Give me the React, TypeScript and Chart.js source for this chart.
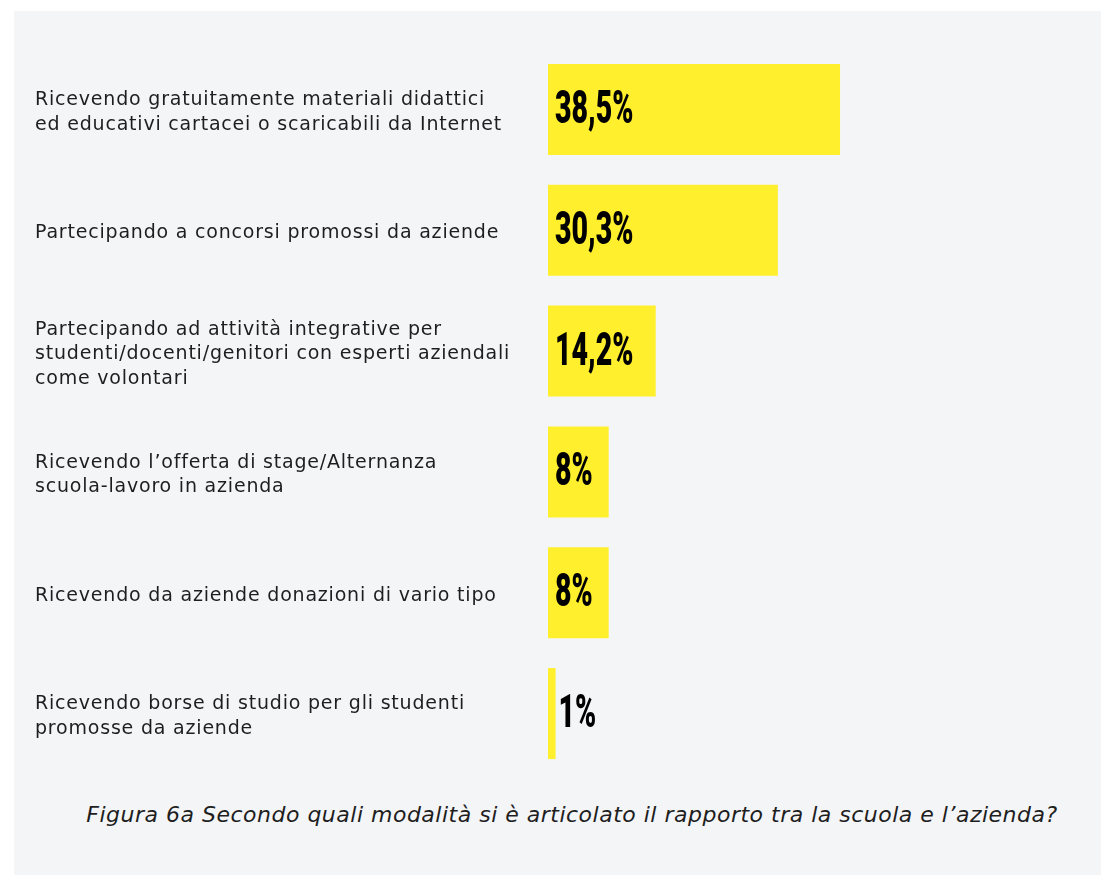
import React, { useEffect, useRef } from "react";
import { Chart, registerables } from "chart.js";

Chart.register(...registerables);

const categories: string[][] = [
  ["Ricevendo gratuitamente materiali didattici", "ed educativi cartacei o scaricabili da Internet"],
  ["Partecipando a concorsi promossi da aziende"],
  ["Partecipando ad attività integrative per", "studenti/docenti/genitori con esperti aziendali", "come volontari"],
  ["Ricevendo l’offerta di stage/Alternanza", "scuola-lavoro in azienda"],
  ["Ricevendo da aziende donazioni di vario tipo"],
  ["Ricevendo borse di studio per gli studenti", "promosse da aziende"],
];
const values: number[] = [38.5, 30.3, 14.2, 8, 8, 1];
const valueLabels: string[] = ["38,5%", "30,3%", "14,2%", "8%", "8%", "1%"];
const caption = "Figura 6a Secondo quali modalità si è articolato il rapporto tra la scuola e l’azienda?";

const YELLOW = "#FFEF2D";
const PANEL = "#F4F5F7";
const TEXT = "#1E1E1E";

const spacingPlugin = {
  id: "labelSpacing",
  beforeDraw(chart: any) {
    (chart.ctx as any).letterSpacing = "0.8px";
  },
};

const valuePlugin = {
  id: "valueLabels",
  afterDatasetsDraw(chart: any) {
    const ctx = chart.ctx;
    const meta = chart.getDatasetMeta(0);
    meta.data.forEach((bar: any, i: number) => {
      const len = bar.x - bar.base;
      const x = len < 30 ? bar.x + 3 : bar.base + 7;
      const y = bar.y;
      ctx.save();
      (ctx as any).letterSpacing = "0px";
      ctx.translate(x, y);
      ctx.scale(0.62, 1);
      ctx.font = '900 46px "Roboto"';
      ctx.fillStyle = "#000";
      ctx.textAlign = "left";
      ctx.textBaseline = "middle";
      ctx.fillText(valueLabels[i], 0, 2);
      ctx.restore();
    });
  },
};

export default function App() {
  const ref = useRef<HTMLCanvasElement | null>(null);
  useEffect(() => {
    if (!ref.current) return;
    const chart = new Chart(ref.current, {
      type: "bar",
      data: {
        labels: categories,
        datasets: [
          {
            data: values,
            backgroundColor: YELLOW,
            borderWidth: 0,
            barPercentage: 0.753,
            categoryPercentage: 1,
          },
        ],
      },
      options: {
        indexAxis: "y",
        animation: false,
        responsive: false,
        maintainAspectRatio: false,
        layout: { padding: { left: 21, right: 22, top: 38, bottom: 1 } },
        plugins: {
          legend: { display: false },
          tooltip: { enabled: false },
          title: { display: false },
        },
        scales: {
          x: { min: 0, max: 70, display: false },
          y: {
            grid: { display: false },
            border: { display: false },
            ticks: {
              crossAlign: "far",
              color: TEXT,
              font: { family: '"DejaVu Sans"', size: 19, lineHeight: 1.29 },
              padding: 0,
            },
            afterFit(scale: any) {
              scale.width = 513;
              scale.paddingTop = 0;
              scale.paddingBottom = 0;
              if (!scale.__shifted) {
                const orig = scale._computeLabelItems.bind(scale);
                scale._computeLabelItems = (area: any) =>
                  orig(area).map((item: any) => ({ ...item, textOffset: item.textOffset + 3 }));
                scale.__shifted = true;
              }
            },
          },
        },
      },
      plugins: [spacingPlugin, valuePlugin],
    });
    return () => chart.destroy();
  }, []);

  return (
    <div
      style={{
        position: "absolute",
        left: 14,
        top: 11,
        width: 1087,
        height: 864,
        background: PANEL,
        overflow: "hidden",
      }}
    >
      <canvas ref={ref} width={1087} height={764} style={{ display: "block", width: 1087, height: 764 }} />
      <div
        style={{
          position: "absolute",
          left: 0,
          top: 789,
          width: 1116,
          textAlign: "center",
          fontFamily: '"DejaVu Sans"',
          fontStyle: "italic",
          fontSize: 22,
          letterSpacing: "0.5px",
          color: TEXT,
          lineHeight: "30px",
          whiteSpace: "nowrap",
        }}
      >
        {caption}
      </div>
    </div>
  );
}
